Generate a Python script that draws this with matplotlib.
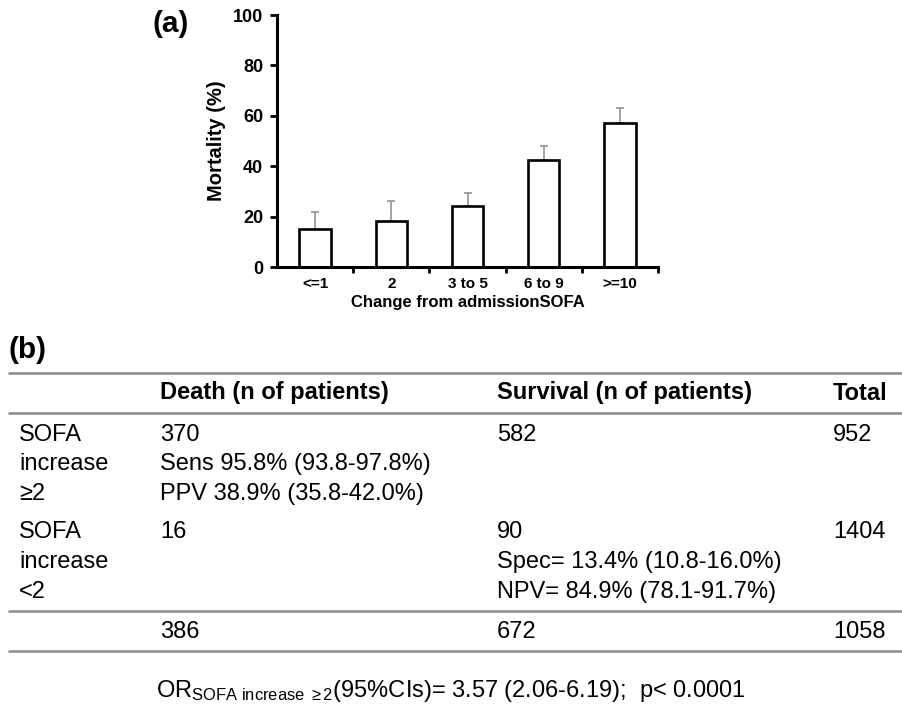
import matplotlib
matplotlib.use("Agg")
import matplotlib.pyplot as plt
import numpy as np

plt.rcParams['font.family'] = ['Liberation Sans', 'DejaVu Sans']
plt.rcParams['mathtext.fontset'] = 'custom'
plt.rcParams['mathtext.rm'] = 'Liberation Sans'
plt.rcParams['mathtext.it'] = 'Liberation Sans:italic'
plt.rcParams['mathtext.bf'] = 'Liberation Sans:bold'

# ---- Panel (a) data ----
categories = ["<=1", "2", "3 to 5", "6 to 9", ">=10"]
mortality = [15.1, 18.2, 24.3, 42.5, 57.0]
err_upper = [6.8, 8.1, 4.9, 5.5, 6.0]
y_ticks = [0, 20, 40, 60, 80, 100]

# ---- Panel (b) table data ----
header = ["", "Death (n of patients)", "Survival (n of patients)", "Total"]
row1_label = ["SOFA", "increase", "\u22652"]
row1_death = ["370", "Sens 95.8% (93.8-97.8%)", "PPV 38.9% (35.8-42.0%)"]
row1_surv = ["582"]
row1_total = ["952"]
row2_label = ["SOFA", "increase", "<2"]
row2_death = ["16"]
row2_surv = ["90", "Spec= 13.4% (10.8-16.0%)", "NPV= 84.9% (78.1-91.7%)"]
row2_total = ["1404"]
totals_row = ["", "386", "672", "1058"]
or_text = r"OR$_{\mathrm{SOFA\ increase\ \geq 2}}$(95%CIs)= 3.57 (2.06-6.19);  p< 0.0001"

W, H = 902, 716
fig = plt.figure(figsize=(W / 100, H / 100), dpi=100)

# Bar chart axes (pixel box: x 277..658, y 15..267)
ax = fig.add_axes([277 / W, 1 - 267 / H, 381 / W, 252 / H])
x = np.arange(len(categories))
ax.bar(x, mortality, width=0.41, color="white", edgecolor="black", linewidth=1.9, zorder=2)
ax.errorbar(x, mortality, yerr=[np.zeros(len(x)), err_upper], fmt="none",
            ecolor="#8a8a8a", elinewidth=1.1, capsize=2.8, capthick=1.1, zorder=1)
ax.set_xlim(-0.5, len(categories) - 0.5)
ax.set_ylim(0, 100)
ax.set_yticks(y_ticks)
ax.set_yticklabels([str(v) for v in y_ticks], fontsize=13, fontweight="bold")
ax.set_xticks(x)
ax.set_xticklabels(categories, fontsize=11, fontweight="bold")
ax.set_xticks(np.arange(0.5, len(categories), 1.0), minor=True)
ax.tick_params(axis="x", which="major", length=0, pad=7)
ax.tick_params(axis="x", which="minor", length=4, width=2.0, direction="out")
ax.tick_params(axis="y", length=5, width=2.0, direction="out", pad=5)
for s in ["top", "right"]:
    ax.spines[s].set_visible(False)
for s in ["left", "bottom"]:
    ax.spines[s].set_linewidth(2.2)
ax.set_ylabel("Mortality (%)", fontsize=14.5, fontweight="bold", labelpad=5)
ax.set_xlabel("Change from admissionSOFA", fontsize=12, fontweight="bold", labelpad=3)

# Overlay axes in pixel coordinates for labels and table
ov = fig.add_axes([0, 0, 1, 1])
ov.set_xlim(0, W)
ov.set_ylim(H, 0)
ov.axis("off")

ov.text(152, 24, "(a)", fontsize=21.5, fontweight="bold", va="center", ha="left")
ov.text(8, 350, "(b)", fontsize=21.5, fontweight="bold", va="center", ha="left")

for yl in [373, 413, 611, 651]:
    ov.plot([8, W], [yl, yl], color="#8c8c8c", linewidth=1.8, solid_capstyle="butt")

col_x = [19, 160, 497, 833]
fs = 17
for cx, t in zip(col_x, header):
    if t:
        ov.text(cx, 393, t, fontsize=fs, fontweight="bold", va="center", ha="left")

row1_y = [435, 464, 494]
row2_y = [532, 562, 592]
for cells, cx in [(row1_label, col_x[0]), (row1_death, col_x[1]),
                  (row1_surv, col_x[2]), (row1_total, col_x[3])]:
    for t, yy in zip(cells, row1_y):
        ov.text(cx, yy, t, fontsize=fs, va="center", ha="left")
for cells, cx in [(row2_label, col_x[0]), (row2_death, col_x[1]),
                  (row2_surv, col_x[2]), (row2_total, col_x[3])]:
    for t, yy in zip(cells, row2_y):
        ov.text(cx, yy, t, fontsize=fs, va="center", ha="left")
for cx, t in zip(col_x, totals_row):
    if t:
        ov.text(cx, 632, t, fontsize=fs, va="center", ha="left")

ov.text(451, 691, or_text, fontsize=17, va="center", ha="center")

fig.savefig("out.png", dpi=100)
